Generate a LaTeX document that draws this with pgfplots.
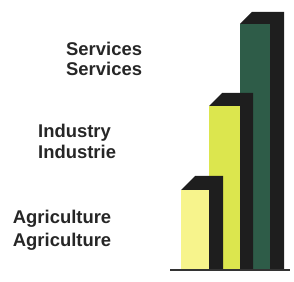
\documentclass[border=0pt]{standalone}
\usepackage{fontspec}
\setmainfont{Liberation Sans}
\usepackage{pgfplots}
\pgfplotsset{compat=1.18}
\definecolor{agri}{HTML}{F7F48C}
\definecolor{indu}{HTML}{DCE64E}
\definecolor{serv}{HTML}{2E5C48}
\definecolor{shade}{HTML}{1E1E1E}
\begin{document}
\begin{tikzpicture}
\begin{axis}[
  scale only axis, width=294bp, height=282bp,
  xmin=0, xmax=294, ymin=-12, ymax=270,
  hide axis, clip=false,
]
\path[draw=none] (rel axis cs:0,0) rectangle (rel axis cs:1,1);
% Services (x 240-270, h 246)
\addplot[fill=shade, draw=none] coordinates {(240,246) (252,258) (284,258) (284,0) (240,0)};
\addplot[ybar, bar width=30, bar shift=0pt, fill=serv, draw=none] coordinates {(255,246)};
% Industry (x 209-240, h 164)
\addplot[fill=shade, draw=none] coordinates {(209,164) (222,177) (253,177) (253,0) (209,0)};
\addplot[ybar, bar width=31, bar shift=0pt, fill=indu, draw=none] coordinates {(224.5,164)};
% Agriculture (x 181-209, h 80)
\addplot[fill=shade, draw=none] coordinates {(181,80) (195,94) (223,94) (223,0) (181,0)};
\addplot[ybar, bar width=28, bar shift=0pt, fill=agri, draw=none] coordinates {(195,80)};
% baseline
\addplot[draw=black!80, line width=1.6pt] coordinates {(170,0) (290,0)};
% labels
\begin{scope}[every node/.style={anchor=base west, inner sep=0pt, font=\fontsize{18.5}{20}\selectfont\bfseries, text=black!85}]
\node at (axis cs:66,214.3) {Services};
\node at (axis cs:66,194.3) {Services};
\node at (axis cs:38,132.3) {Industry};
\node at (axis cs:38,111) {Industrie};
\node at (axis cs:12.7,46) {Agriculture};
\node at (axis cs:12.7,23.3) {Agriculture};
\end{scope}
\end{axis}
\end{tikzpicture}
\end{document}
